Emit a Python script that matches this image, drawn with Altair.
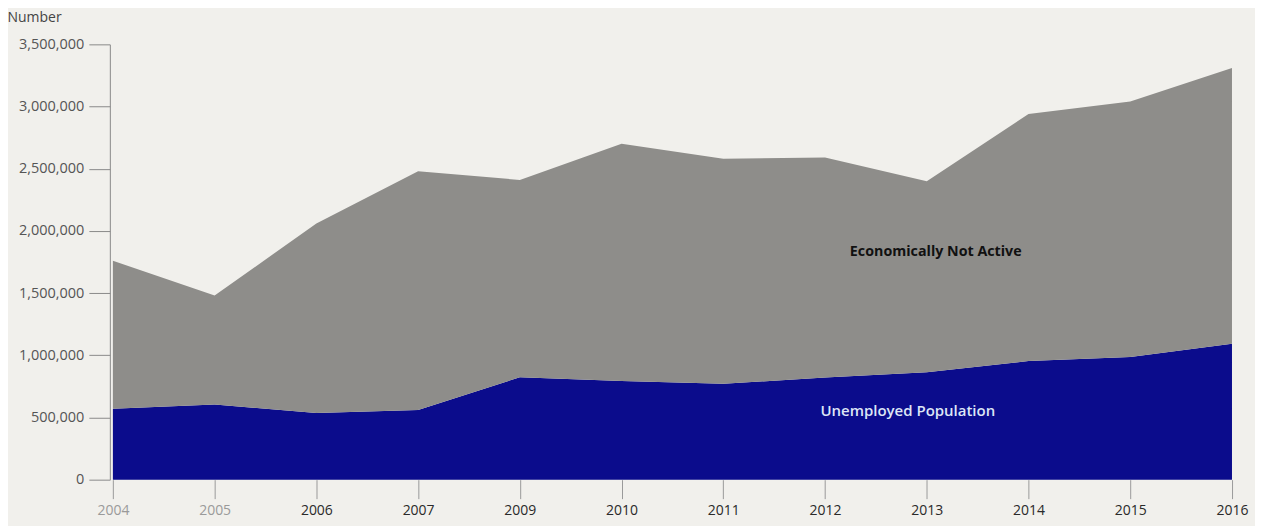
import altair as alt
import pandas as pd

years = ["2004", "2005", "2006", "2007", "2009", "2010", "2011", "2012", "2013", "2014", "2015", "2016"]
unemployed = [570000, 605000, 536000, 560000, 823000, 793000, 771000, 821000, 864000, 954000, 986000, 1092000]
not_active = [1190000, 875000, 1524000, 1920000, 1587000, 1907000, 1809000, 1769000, 1536000, 1986000, 2054000, 2218000]
series_names = ["Unemployed Population", "Economically Not Active"]
series_colors = ["#0b0c8c", "#8e8d8a"]
y_ticks = [0, 500000, 1000000, 1500000, 2000000, 2500000, 3000000, 3500000]

label_years = ["2013", "2013"]
label_values = [1830000, 550000]

rows = []
for i, yr in enumerate(years):
    rows.append({"year": yr, "series": series_names[0], "value": unemployed[i], "ord": 0})
    rows.append({"year": yr, "series": series_names[1], "value": not_active[i], "ord": 1})
df = pd.DataFrame(rows)

FONT = "Open Sans"

x_enc = alt.X(
    "year:O",
    sort=years,
    scale=alt.Scale(type="point", padding=0.03),
    axis=alt.Axis(
        title=None,
        domain=False,
        grid=False,
        tickSize=19,
        tickColor="#9a9a9a",
        labelAngle=0,
        labelPadding=5,
        labelFont=FONT,
        labelFontSize=14,
        labelColor={"condition": {"test": "datum.value == '2004' || datum.value == '2005'", "value": "#9a9a9a"}, "value": "#2a2a2a"},
    ),
)

y_scale = alt.Scale(domain=[0, 3500000], nice=False, zero=True)

area = alt.Chart(df).mark_area(interpolate="linear").encode(
    x=x_enc,
    y=alt.Y(
        "value:Q",
        stack="zero",
        scale=y_scale,
        axis=alt.Axis(
            values=y_ticks,
            format=",.0f",
            grid=False,
            domainColor="#8a8a8a",
            tickColor="#8a8a8a",
            tickSize=21,
            labelPadding=5,
            labelFont=FONT,
            labelFontSize=14.5,
            labelColor="#555555",
            title="Number",
            titleAngle=0,
            titleAlign="left",
            titleBaseline="alphabetic",
            titleX=-103,
            titleY=-23,
            titleFont=FONT,
            titleFontSize=14,
            titleFontWeight="normal",
            titleColor="#444444",
        ),
    ),
    color=alt.Color("series:N", scale=alt.Scale(domain=series_names, range=series_colors), legend=None),
    order=alt.Order("ord:Q"),
)

lab1 = alt.Chart(pd.DataFrame({"year": [label_years[0]], "value": [label_values[0]], "text": [series_names[1]]})).mark_text(
    font=FONT, fontSize=14.3, fontWeight="bold", color="#111111", dx=9, align="center", baseline="middle"
).encode(
    x=alt.X("year:O", sort=years),
    y=alt.Y("value:Q", stack=None),
    text="text:N",
)

lab2 = alt.Chart(pd.DataFrame({"year": [label_years[1]], "value": [label_values[1]], "text": [series_names[0]]})).mark_text(
    font=FONT, fontSize=15, fontWeight=600, color="#dde6f6", dx=-19, align="center", baseline="middle"
).encode(
    x=alt.X("year:O", sort=years),
    y=alt.Y("value:Q", stack=None),
    text="text:N",
)

chart = alt.layer(area, lab1, lab2).properties(
    width=1127,
    height=436,
    autosize=alt.AutoSizeParams(type="none"),
    padding={"left": 102, "top": 36, "right": 20, "bottom": 46},
    background="#f1f0ec",
).configure_view(stroke=None)

chart.save("out.html", embed_options={"renderer": "svg", "actions": False})
